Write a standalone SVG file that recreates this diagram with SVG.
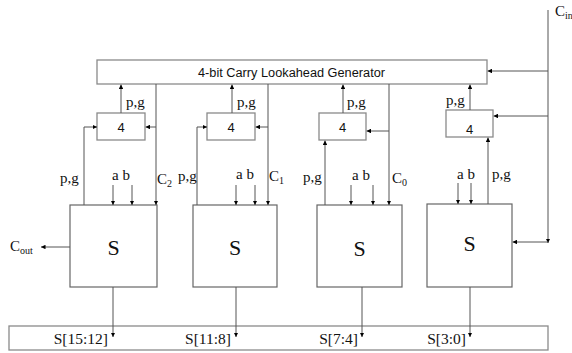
<svg xmlns="http://www.w3.org/2000/svg" width="572" height="353" viewBox="0 0 572 353">
<style>
.box{fill:#fff;stroke:#8a8a8a;stroke-width:1.3}
.blk{fill:#fff;stroke:#666;stroke-width:1.2}
.ar{fill:none;stroke:#555;stroke-width:1;marker-end:url(#ah)}
.sans{font-family:"Liberation Sans",Arial,sans-serif;fill:#111}
.ser{font-family:"Liberation Serif","Times New Roman",serif;fill:#111}
.lb{font-size:15px}
.sub{font-size:10px}
</style>
<defs>
<marker id="ah" viewBox="0 0 8 8" refX="8" refY="4" markerWidth="4.5" markerHeight="4.5" orient="auto" markerUnits="userSpaceOnUse">
<path d="M0,0 L8,4 L0,8 z" fill="#000"/>
</marker>
</defs>
<rect width="572" height="353" fill="#fff"/>

<g id="cla">
<rect class="box" x="97" y="60" width="390" height="24"/>
<text class="sans" x="291.5" y="76.5" font-size="12.5" text-anchor="middle" textLength="187" lengthAdjust="spacingAndGlyphs">4-bit Carry Lookahead Generator</text>
</g>

<g id="g1">
<rect class="box" x="97" y="113" width="48" height="27"/>
<text class="sans" x="121" y="131.5" font-size="13" text-anchor="middle">4</text>
</g>
<g id="g2">
<rect class="box" x="207" y="113" width="48" height="27"/>
<text class="sans" x="231" y="131.5" font-size="13" text-anchor="middle">4</text>
</g>
<g id="g3">
<rect class="box" x="319" y="113" width="47" height="27"/>
<text class="sans" x="342.5" y="131.5" font-size="13" text-anchor="middle">4</text>
</g>
<g id="g4">
<rect class="box" x="446" y="110" width="47" height="27"/>
<text class="sans" x="469.5" y="133.5" font-size="13" text-anchor="middle">4</text>
</g>

<g id="s1">
<rect class="blk" x="70" y="205" width="87" height="82"/>
<text class="ser" x="113.5" y="255" font-size="22" text-anchor="middle">S</text>
</g>
<g id="s2">
<rect class="blk" x="193" y="205" width="84" height="82"/>
<text class="ser" x="235" y="255" font-size="22" text-anchor="middle">S</text>
</g>
<g id="s3">
<rect class="blk" x="317" y="205" width="85" height="82"/>
<text class="ser" x="359.5" y="256" font-size="22" text-anchor="middle">S</text>
</g>
<g id="s4">
<rect class="blk" x="427" y="204" width="85" height="83"/>
<text class="ser" x="469.5" y="251" font-size="22" text-anchor="middle">S</text>
</g>

<g id="sum">
<rect class="box" x="9" y="326" width="539" height="24"/>
<text class="ser" x="108" y="343.5" font-size="15.5" text-anchor="end">S[15:12]</text>
<text class="ser" x="231" y="343.5" font-size="15.5" text-anchor="end">S[11:8]</text>
<text class="ser" x="358" y="343.5" font-size="15.5" text-anchor="end">S[7:4]</text>
<text class="ser" x="466" y="343.5" font-size="15.5" text-anchor="end">S[3:0]</text>
</g>

<g id="connectors">
<path class="ar" d="M121,113 V84.5"/>
<path class="ar" d="M232,113 V84.5"/>
<path class="ar" d="M343,113 V84.5"/>
<path class="ar" d="M470,110 V84.5"/>
<path class="ar" d="M156,84 V205"/>
<path class="ar" d="M156,127 H145.5"/>
<path class="ar" d="M268,84 V205"/>
<path class="ar" d="M268,127 H255.5"/>
<path class="ar" d="M389,84 V205"/>
<path class="ar" d="M389,131 H366.5"/>
<path class="ar" d="M548,10 V243"/>
<path class="ar" d="M548,71 H487.5"/>
<path class="ar" d="M548,116 H493.5"/>
<path class="ar" d="M548,242 H512.5"/>
<path class="ar" d="M84,205 V127 H97"/>
<path class="ar" d="M197,205 V127 H207"/>
<path class="ar" d="M325,205 V140.5"/>
<path class="ar" d="M488,204 V137.5"/>
<path class="ar" d="M113,185 V205"/>
<path class="ar" d="M132,185 V205"/>
<path class="ar" d="M236,185 V205"/>
<path class="ar" d="M255,185 V205"/>
<path class="ar" d="M351,185 V205"/>
<path class="ar" d="M373,185 V205"/>
<path class="ar" d="M458,183 V204"/>
<path class="ar" d="M471,183 V204"/>
<path class="ar" d="M70,247 H41"/>
<path class="ar" d="M113,287 V337"/>
<path class="ar" d="M236,287 V337"/>
<path class="ar" d="M362,287 V337"/>
<path class="ar" d="M470,287 V337"/>
</g>

<g id="labels">
<text class="ser lb" x="126" y="107">p,g</text>
<text class="ser lb" x="237" y="107">p,g</text>
<text class="ser lb" x="347" y="107">p,g</text>
<text class="ser lb" x="446" y="105">p,g</text>

<text class="ser lb" x="60" y="183">p,g</text>
<text class="ser lb" x="112" y="180">a b</text>
<text class="ser lb" x="157" y="184">C<tspan class="sub" dy="3">2</tspan></text>

<text class="ser lb" x="178" y="181">p,g</text>
<text class="ser lb" x="236" y="179">a b</text>
<text class="ser lb" x="269" y="181">C<tspan class="sub" dy="3">1</tspan></text>

<text class="ser lb" x="303" y="182">p,g</text>
<text class="ser lb" x="352" y="180">a b</text>
<text class="ser lb" x="392" y="183">C<tspan class="sub" dy="3">0</tspan></text>

<text class="ser lb" x="457" y="179">a b</text>
<text class="ser lb" x="492" y="179">p,g</text>

<text class="ser" x="10" y="251" font-size="15">C<tspan class="sub" dy="3">out</tspan></text>
<text class="ser" x="555" y="16" font-size="15">C<tspan class="sub" dy="3">in</tspan></text>
</g>
</svg>
